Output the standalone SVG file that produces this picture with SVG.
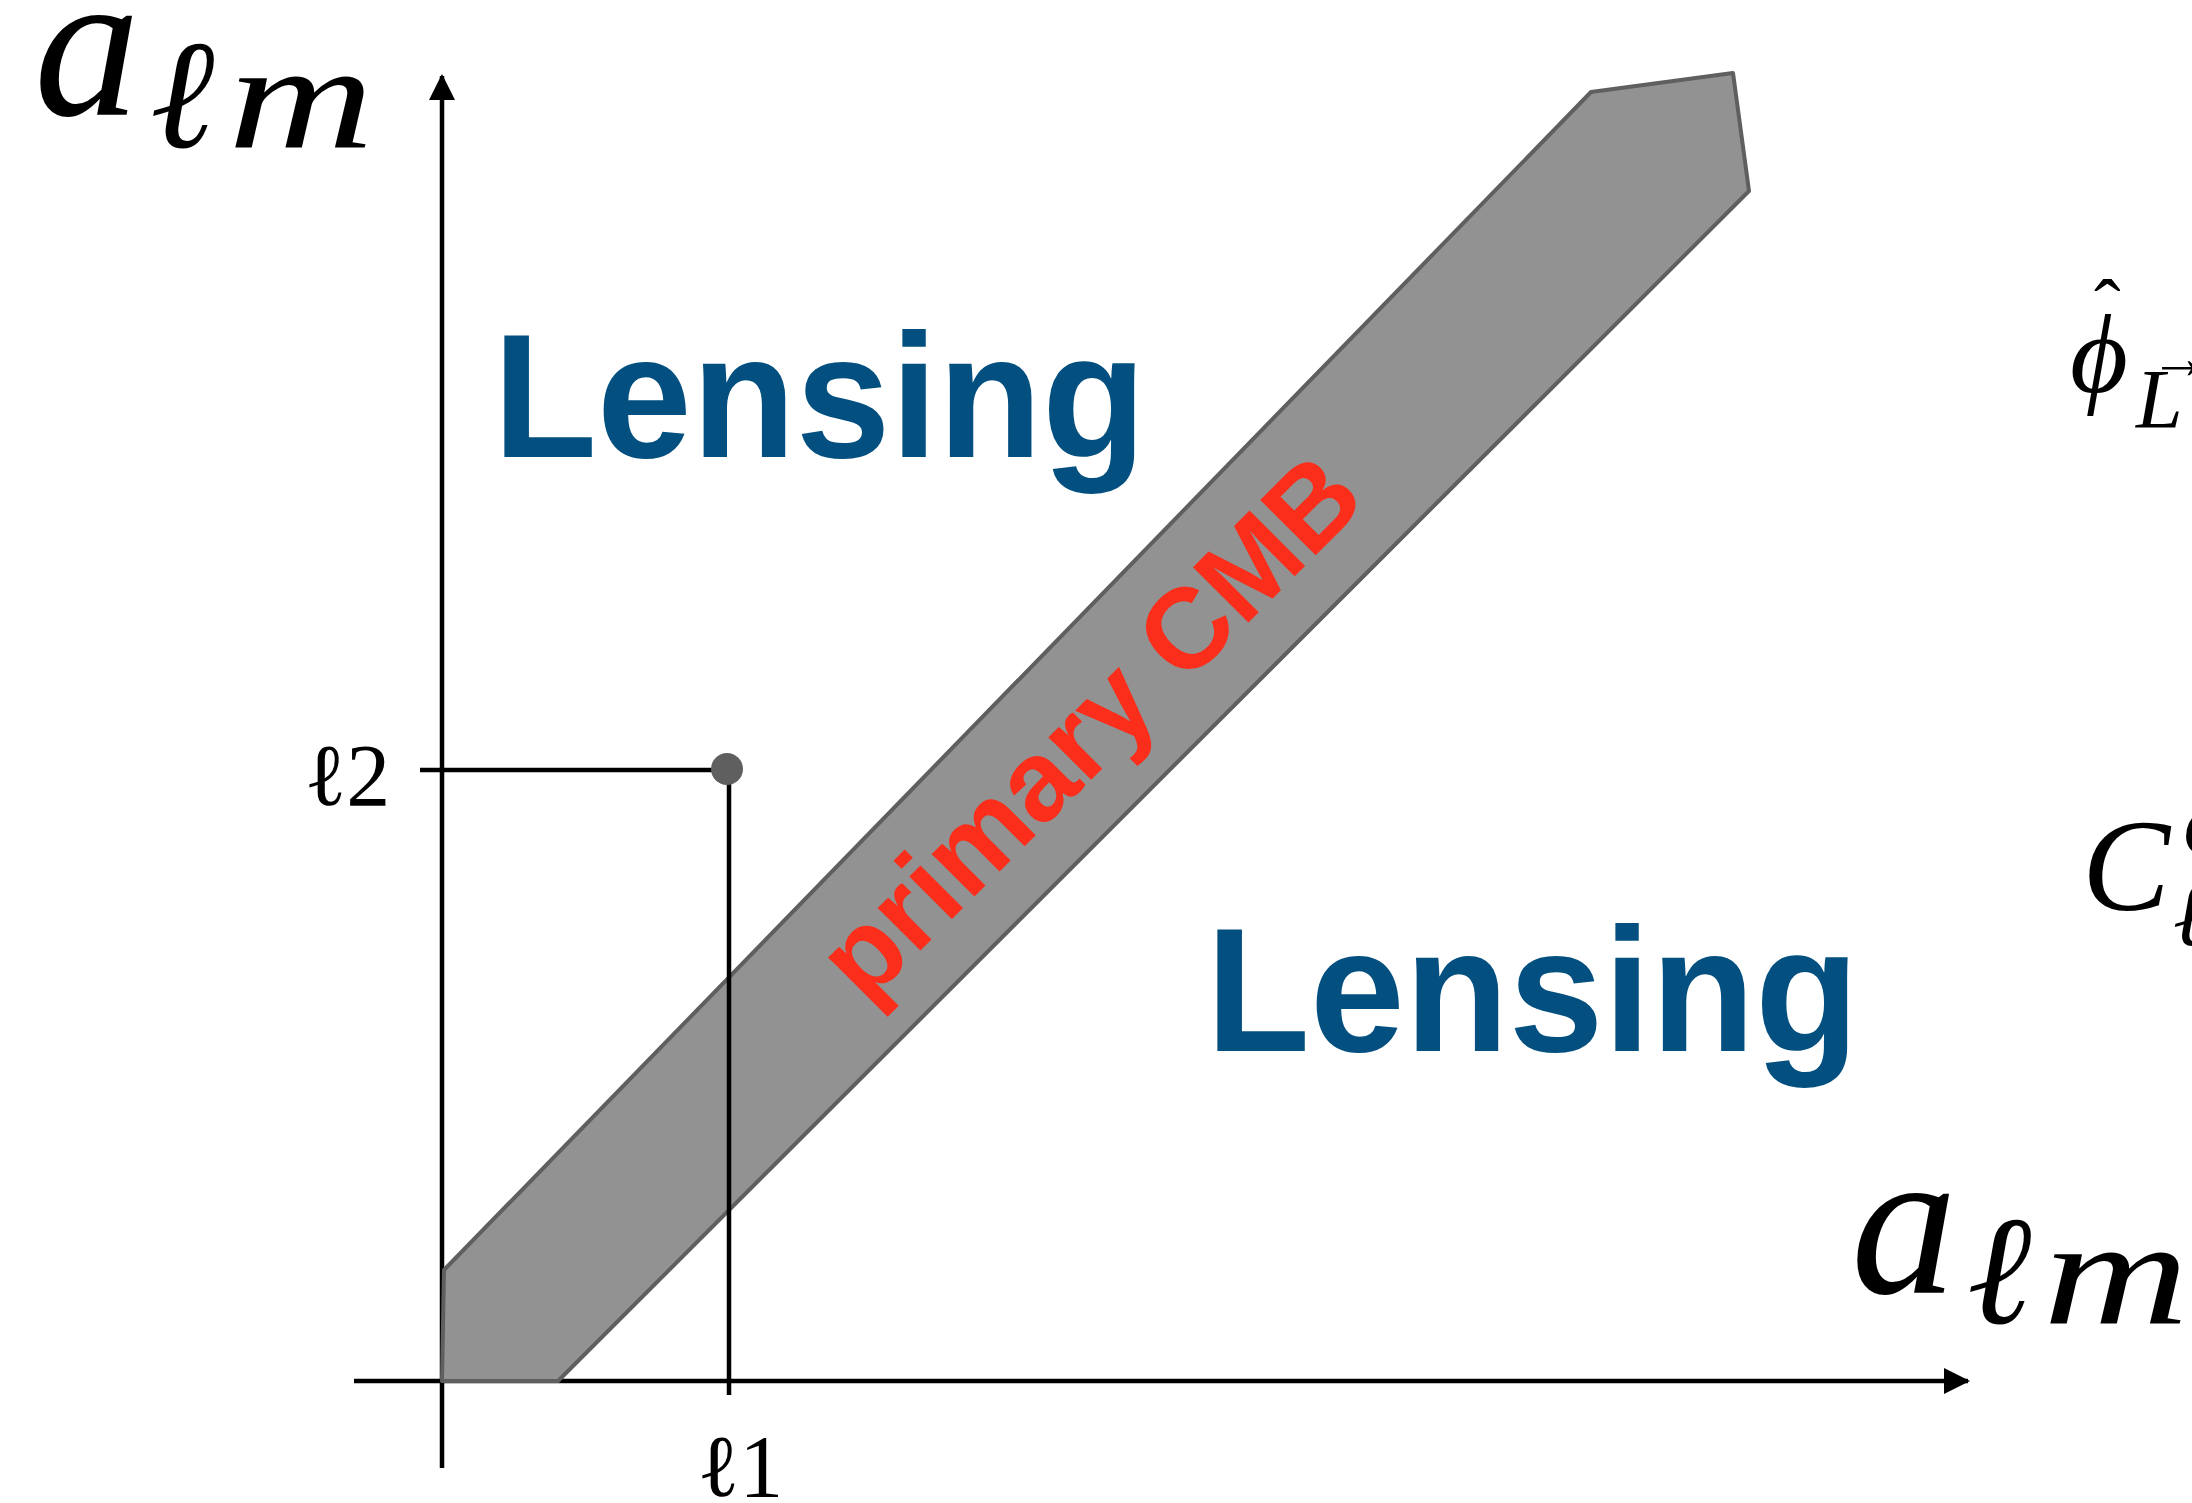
<svg xmlns="http://www.w3.org/2000/svg" width="2192" height="1503" viewBox="0 0 2192 1503">
<style>
.ax{stroke:#000;stroke-width:4.5;fill:none}
.math{font-family:"Liberation Serif","DejaVu Serif",serif;fill:#000}
.it{font-style:italic}
.lens{font-family:"Liberation Sans",Arial,sans-serif;font-weight:bold;fill:#024f80;font-size:177px}
.cmb{font-family:"Liberation Sans",Arial,sans-serif;font-weight:bold;fill:#fb2e1b;font-size:114px}
</style>
<defs>
<marker id="arr" markerWidth="26" markerHeight="26" refX="24" refY="13" orient="auto" markerUnits="userSpaceOnUse">
<path d="M0,0 L26,13 L0,26 Z" fill="#000"/>
</marker>
</defs>
<rect width="2192" height="1503" fill="#fff"/>
<g id="connectors">
<line class="ax" x1="442" y1="1468" x2="442" y2="76" marker-end="url(#arr)"/>
<line class="ax" x1="354" y1="1381" x2="1968" y2="1381" marker-end="url(#arr)"/>
</g>
<g id="primary-cmb-band">
<polygon points="442,1381 444,1270 1591,92 1733,73 1749,191 558,1381" fill="#929292" stroke="#5f5f5f" stroke-width="4" stroke-linejoin="round"/>
<text class="cmb" x="1117" y="754" text-anchor="middle" transform="rotate(-45 1117 754)" textLength="712" lengthAdjust="spacingAndGlyphs">primary CMB</text>
</g>
<g id="l2-guide">
<line class="ax" x1="420" y1="770" x2="727" y2="770"/>
<text class="math" x="304" y="805" font-size="88">ℓ2</text>
</g>
<g id="l1-guide">
<line class="ax" x1="729" y1="770" x2="729" y2="1395"/>
<text class="math" x="697" y="1496" font-size="88">ℓ1</text>
</g>
<g id="point">
<circle cx="727" cy="769" r="16" fill="#5f5f5f"/>
</g>
<g id="lensing-upper">
<text class="lens" x="493" y="457" textLength="653" lengthAdjust="spacingAndGlyphs">Lensing</text>
</g>
<g id="lensing-lower">
<text class="lens" x="1206" y="1051" textLength="653" lengthAdjust="spacingAndGlyphs">Lensing</text>
</g>
<g id="y-label">
<text class="math it" x="34" y="115" font-size="212">a</text>
<text class="math it" x="150" y="147" font-size="155">ℓ</text>
<text class="math it" x="228" y="147" font-size="150" textLength="146" lengthAdjust="spacingAndGlyphs">m</text>
</g>
<g id="x-label">
<text class="math it" x="1851" y="1293" font-size="212">a</text>
<text class="math it" x="1967" y="1323" font-size="155">ℓ</text>
<text class="math it" x="2043" y="1323" font-size="150" textLength="146" lengthAdjust="spacingAndGlyphs">m</text>
</g>
<g id="phi-label">
<text class="math it" x="2070" y="392" font-size="112">ϕ</text>
<text class="math" x="2094" y="335" font-size="80">ˆ</text>
<text class="math it" x="2136" y="428" font-size="84">L</text>
<text class="math" x="2150" y="378" font-size="60">→</text>
</g>
<g id="cl-label">
<text class="math it" x="2082" y="910" font-size="132">C</text>
<text class="math it" x="2184" y="853" font-size="90">ϕϕ</text>
<text class="math it" x="2173" y="945" font-size="90">ℓ</text>
</g>
</svg>
